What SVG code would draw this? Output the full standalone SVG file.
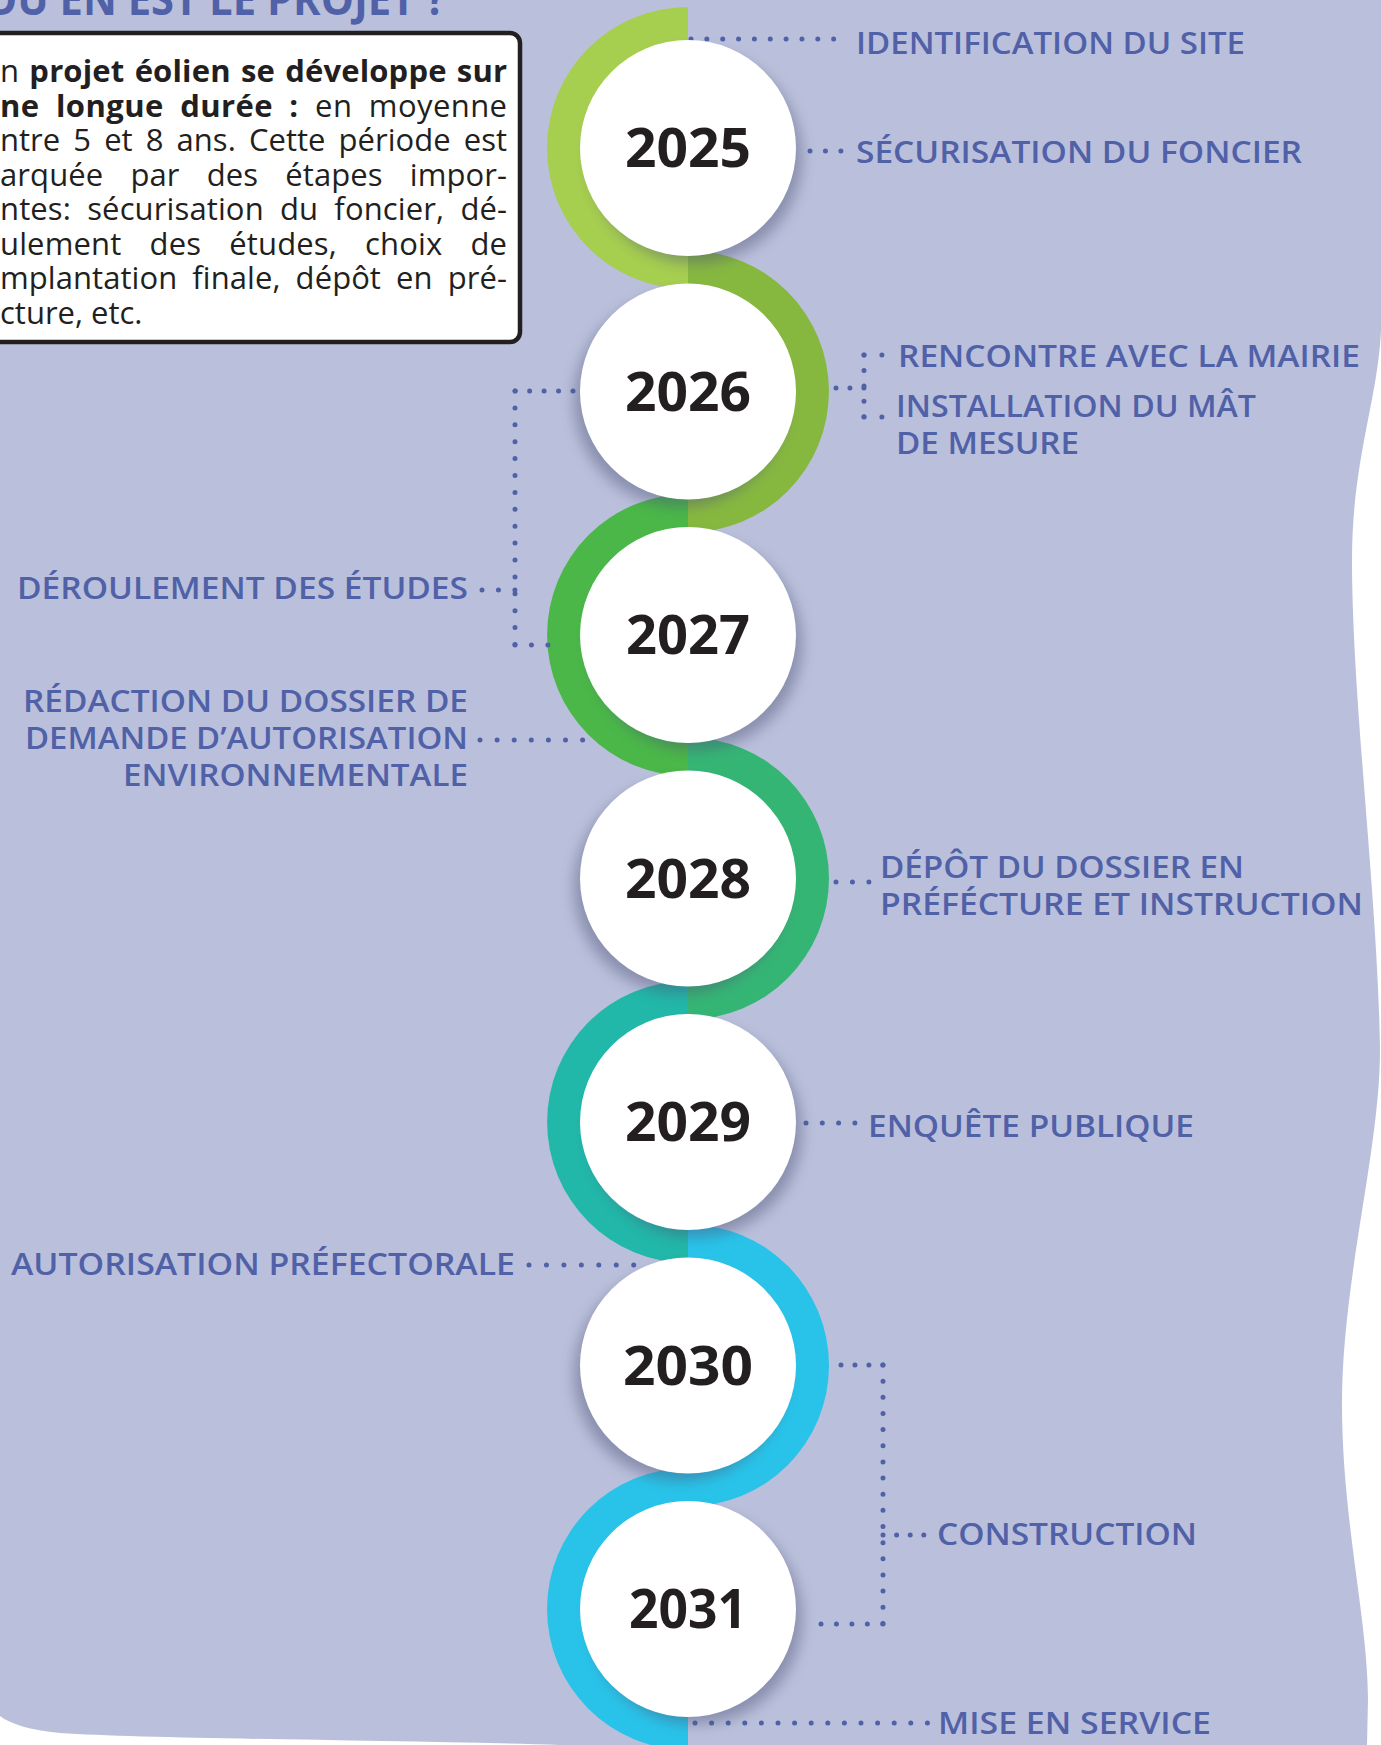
<svg xmlns="http://www.w3.org/2000/svg" width="1381" height="1745" viewBox="0 0 1381 1745">
<defs>
<style>
.lbl{font-family:"Open Sans","Liberation Sans",sans-serif;font-weight:600;font-size:30px;fill:#5061A8}
.yr{font-family:"Open Sans","Liberation Sans",sans-serif;font-weight:700;font-size:54px;fill:#231F20;text-anchor:middle}
.box{font-family:"Open Sans","Liberation Sans",sans-serif;font-size:31px;fill:#231F20}
.b{font-weight:700}
.disc{fill:#FFFFFF}
.shd{fill:#4E5276;opacity:0.45;filter:url(#blur)}
.dot{fill:none;stroke:#5061A8;stroke-width:5;stroke-linecap:round}
</style>
<filter id="blur" x="-30%" y="-30%" width="160%" height="160%"><feGaussianBlur stdDeviation="7"/></filter>
</defs>
<rect x="0" y="0" width="1381" height="1745" fill="#FFFFFF"/>
<path id="background" fill="#BAC0DB" d="M0,0 H1381 V330 C1378,400 1352,460 1352,560 C1352,700 1378,900 1380,1050 C1380,1150 1342,1280 1342,1404 C1342,1520 1368,1620 1368,1700 L1367,1745 L560,1745 C400,1740 150,1739 60,1733 C30,1730 10,1724 0,1716 Z"/>

<g id="title">
<text x="-16" y="15" textLength="462" lengthAdjust="spacingAndGlyphs" style="font-family:'Open Sans','Liberation Sans',sans-serif;font-weight:700;font-size:44px;fill:#5061A8">OÙ EN EST LE PROJET ?</text>
</g>

<g id="intro-box">
<rect x="-20" y="33" width="540" height="309" rx="10" fill="#FFFFFF" stroke="#231F20" stroke-width="4.5"/>
<text class="box" x="0" y="82" textLength="507" lengthAdjust="spacing" word-spacing="2">n <tspan class="b">projet éolien se développe sur</tspan></text>
<text class="box" x="0" y="116.5" textLength="507" lengthAdjust="spacing" word-spacing="8"><tspan class="b">ne longue durée :</tspan> en moyenne</text>
<text class="box" x="0" y="151" textLength="507" lengthAdjust="spacing" word-spacing="5">ntre 5 et 8 ans. Cette période est</text>
<text class="box" x="0" y="185.5" textLength="507" lengthAdjust="spacing" word-spacing="19">arquée par des étapes impor-</text>
<text class="box" x="0" y="220" textLength="507" lengthAdjust="spacing" word-spacing="8">ntes: sécurisation du foncier, dé-</text>
<text class="box" x="0" y="254.5" textLength="507" lengthAdjust="spacing" word-spacing="20">ulement des études, choix de</text>
<text class="box" x="0" y="289" textLength="507" lengthAdjust="spacing" word-spacing="7">mplantation finale, dépôt en pré-</text>
<text class="box" x="0" y="323.5">cture, etc.</text>
</g>

<g id="timeline-rings">
<path fill="#A6CE4F" d="M688,7 A141,141 0 0 0 688,289 L688,252 A104,104 0 0 1 688,44 Z"/>
<path fill="#86B840" d="M688,250.5 A141,141 0 0 1 688,532.5 L688,495.5 A104,104 0 0 0 688,287.5 Z"/>
<path fill="#4AB748" d="M688,494 A141,141 0 0 0 688,776 L688,739 A104,104 0 0 1 688,531 Z"/>
<path fill="#35B574" d="M688,737.5 A141,141 0 0 1 688,1019.5 L688,982.5 A104,104 0 0 0 688,774.5 Z"/>
<path fill="#21B7A9" d="M688,981 A141,141 0 0 0 688,1263 L688,1226 A104,104 0 0 1 688,1018 Z"/>
<path fill="#29C3E9" d="M688,1224.5 A141,141 0 0 1 688,1506.5 L688,1469.5 A104,104 0 0 0 688,1261.5 Z"/>
<path fill="#29C3E9" d="M688,1468 A141,141 0 0 0 688,1750 L688,1713 A104,104 0 0 1 688,1505 Z"/>
</g>

<g id="connectors">
<path class="dot" stroke-dasharray="0 15.85" d="M691,39 H834"/>
<path class="dot" stroke-dasharray="0 15.45" d="M810,151 H841"/>
<path class="dot" stroke-dasharray="0 13.95" d="M836,388 H864"/>
<path class="dot" stroke-dasharray="0 15.45" d="M864,355 V417"/>
<path class="dot" stroke-dasharray="0 17.9" d="M864,355 H882"/>
<path class="dot" stroke-dasharray="0 17.9" d="M864,417 H882"/>
<path class="dot" stroke-dasharray="0 14.45" d="M573,391 H515"/>
<path class="dot" stroke-dasharray="0 16.9" d="M515,391 V645"/>
<path class="dot" stroke-dasharray="0 16.45" d="M515,645 H548"/>
<path class="dot" stroke-dasharray="0 16.45" d="M482,590 H515"/>
<path class="dot" stroke-dasharray="0 17.1" d="M480,740 H583"/>
<path class="dot" stroke-dasharray="0 16.45" d="M836,882 H869"/>
<path class="dot" stroke-dasharray="0 16.3" d="M806,1123 H855"/>
<path class="dot" stroke-dasharray="0 17.45" d="M529,1265 H634"/>
<path class="dot" stroke-dasharray="0 13.95" d="M841,1365 H883"/>
<path class="dot" stroke-dasharray="0 16.15" d="M883,1365 V1624"/>
<path class="dot" stroke-dasharray="0 15.45" d="M821,1624 H883"/>
<path class="dot" stroke-dasharray="0 13.6" d="M883,1535 H924"/>
<path class="dot" stroke-dasharray="0 16.6" d="M695,1723 H928"/>
</g>

<g id="node-2025"><circle class="shd" cx="696" cy="157" r="106"/><circle class="disc" cx="688" cy="148" r="108"/><text class="yr" x="688" y="167" textLength="126" lengthAdjust="spacingAndGlyphs">2025</text></g>
<g id="node-2026"><circle class="shd" cx="680" cy="400.5" r="106"/><circle class="disc" cx="688" cy="391.5" r="108"/><text class="yr" x="688" y="410.5" textLength="126" lengthAdjust="spacingAndGlyphs">2026</text></g>
<g id="node-2027"><circle class="shd" cx="696" cy="644" r="106"/><circle class="disc" cx="688" cy="635" r="108"/><text class="yr" x="688" y="654" textLength="124" lengthAdjust="spacingAndGlyphs">2027</text></g>
<g id="node-2028"><circle class="shd" cx="680" cy="887.5" r="106"/><circle class="disc" cx="688" cy="878.5" r="108"/><text class="yr" x="688" y="897.5" textLength="126" lengthAdjust="spacingAndGlyphs">2028</text></g>
<g id="node-2029"><circle class="shd" cx="696" cy="1131" r="106"/><circle class="disc" cx="688" cy="1122" r="108"/><text class="yr" x="688" y="1141" textLength="126" lengthAdjust="spacingAndGlyphs">2029</text></g>
<g id="node-2030"><circle class="shd" cx="680" cy="1374.5" r="106"/><circle class="disc" cx="688" cy="1365.5" r="108"/><text class="yr" x="688" y="1384.5" textLength="130" lengthAdjust="spacingAndGlyphs">2030</text></g>
<g id="node-2031"><circle class="shd" cx="696" cy="1618" r="106"/><circle class="disc" cx="688" cy="1609" r="108"/><text class="yr" x="688" y="1628" textLength="118" lengthAdjust="spacingAndGlyphs">2031</text></g>

<g id="label-identification"><text class="lbl" x="856" y="54" textLength="389" lengthAdjust="spacingAndGlyphs">IDENTIFICATION DU SITE</text></g>
<g id="label-securisation"><text class="lbl" x="856" y="163" textLength="446" lengthAdjust="spacingAndGlyphs">SÉCURISATION DU FONCIER</text></g>
<g id="label-rencontre"><text class="lbl" x="898" y="367" textLength="462" lengthAdjust="spacingAndGlyphs">RENCONTRE AVEC LA MAIRIE</text></g>
<g id="label-installation"><text class="lbl" x="896" y="417" textLength="360" lengthAdjust="spacingAndGlyphs">INSTALLATION DU MÂT</text><text class="lbl" x="896" y="454" textLength="183" lengthAdjust="spacingAndGlyphs">DE MESURE</text></g>
<g id="label-deroulement"><text class="lbl" x="17" y="599" textLength="451" lengthAdjust="spacingAndGlyphs">DÉROULEMENT DES ÉTUDES</text></g>
<g id="label-redaction"><text class="lbl" x="23" y="712" textLength="445" lengthAdjust="spacingAndGlyphs">RÉDACTION DU DOSSIER DE</text><text class="lbl" x="25" y="749" textLength="443" lengthAdjust="spacingAndGlyphs">DEMANDE D’AUTORISATION</text><text class="lbl" x="123" y="786" textLength="345" lengthAdjust="spacingAndGlyphs">ENVIRONNEMENTALE</text></g>
<g id="label-depot"><text class="lbl" x="880" y="878" textLength="364" lengthAdjust="spacingAndGlyphs">DÉPÔT DU DOSSIER EN</text><text class="lbl" x="880" y="915" textLength="483" lengthAdjust="spacingAndGlyphs">PRÉFÉCTURE ET INSTRUCTION</text></g>
<g id="label-enquete"><text class="lbl" x="868" y="1137" textLength="326" lengthAdjust="spacingAndGlyphs">ENQUÊTE PUBLIQUE</text></g>
<g id="label-autorisation"><text class="lbl" x="11" y="1275" textLength="504" lengthAdjust="spacingAndGlyphs">AUTORISATION PRÉFECTORALE</text></g>
<g id="label-construction"><text class="lbl" x="937" y="1545" textLength="260" lengthAdjust="spacingAndGlyphs">CONSTRUCTION</text></g>
<g id="label-mise-en-service"><text class="lbl" x="938" y="1734" textLength="273" lengthAdjust="spacingAndGlyphs">MISE EN SERVICE</text></g>
</svg>
